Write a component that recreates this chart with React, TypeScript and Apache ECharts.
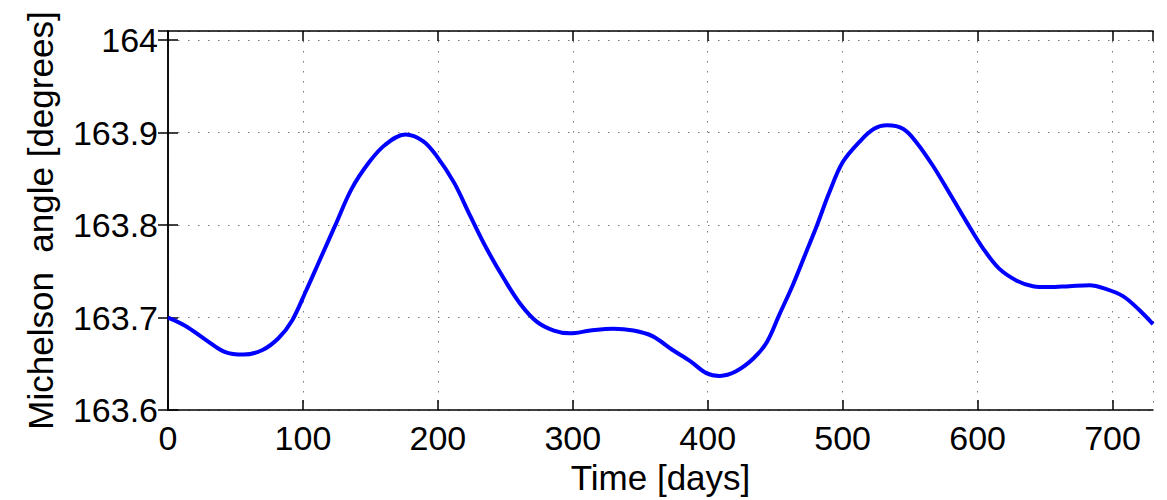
import React, { useEffect, useRef } from "react";
import * as echarts from "echarts";

const days = [0, 13, 28, 42, 56, 70, 82, 92, 102, 113, 124, 136, 149, 161, 176, 189, 199, 212, 224, 236, 249, 261, 273, 286, 298, 313, 330, 345, 359, 374, 387, 399, 409, 421, 434, 444, 453, 463, 473, 481, 490, 500, 513, 523, 533, 545, 555, 567, 579, 592, 604, 616, 629, 641, 653, 668, 683, 695, 708, 720, 730];
const angles = [163.700, 163.691, 163.676, 163.663, 163.660, 163.665, 163.678, 163.697, 163.728, 163.764, 163.800, 163.839, 163.868, 163.887, 163.898, 163.891, 163.875, 163.846, 163.810, 163.775, 163.742, 163.715, 163.696, 163.686, 163.683, 163.686, 163.688, 163.686, 163.680, 163.665, 163.653, 163.640, 163.637, 163.642, 163.656, 163.674, 163.703, 163.735, 163.771, 163.800, 163.835, 163.868, 163.891, 163.904, 163.908, 163.904, 163.889, 163.864, 163.835, 163.803, 163.775, 163.753, 163.740, 163.734, 163.733, 163.734, 163.735, 163.731, 163.723, 163.708, 163.693];

const xMin = 0;
const xMax = 730;
const xStep = 100;
const yMin = 163.6;
const yMax = 164.01;
const yStep = 0.1;

const xTitle = "Time [days]";
const yTitle = "Michelson  angle [degrees]";

const FONT = "'Liberation Sans', Arial, Helvetica, sans-serif";

export default function App() {
  const ref = useRef<HTMLDivElement>(null);
  useEffect(() => {
    if (!ref.current) return;
    const chart = echarts.init(ref.current, undefined, { renderer: "svg" });
    const axisLine = { show: true, lineStyle: { color: "#000", width: 1.5 } };
    const tick = { show: true, inside: true, length: 10, lineStyle: { color: "#000", width: 1.5 } };
    const grid = { show: true, lineStyle: { color: "#777", width: 1, type: [1.5, 8.5] as any } };
    const yFmt = (v: number) => String(Math.round(v * 10) / 10);
    chart.setOption({
      animation: false,
      backgroundColor: "#fff",
      grid: { left: 168, right: 14, top: 31, bottom: 88, containLabel: false },
      xAxis: [
        {
          type: "value",
          position: "bottom",
          min: xMin,
          max: xMax,
          interval: xStep,
          axisLine,
          axisTick: tick,
          splitLine: grid,
          axisLabel: { show: true, showMaxLabel: false, color: "#000", fontSize: 34, fontFamily: FONT, margin: 11 },
          name: xTitle,
          nameLocation: "middle",
          nameGap: 42,
          nameTextStyle: { color: "#000", fontSize: 35, fontFamily: FONT },
        },
        {
          type: "value",
          position: "top",
          min: xMin,
          max: xMax,
          interval: xStep,
          axisLine,
          axisTick: tick,
          splitLine: { show: false },
          axisLabel: { show: false },
        },
      ],
      yAxis: [
        {
          type: "value",
          position: "left",
          min: yMin,
          max: yMax,
          interval: yStep,
          axisLine,
          axisTick: tick,
          splitLine: grid,
          axisLabel: { show: true, showMaxLabel: false, formatter: yFmt, color: "#000", fontSize: 34, fontFamily: FONT, margin: 10 },
          name: yTitle,
          nameLocation: "middle",
          nameGap: 110,
          nameRotate: 90,
          nameTextStyle: { color: "#000", fontSize: 35, fontFamily: FONT },
        },
        {
          type: "value",
          position: "right",
          min: yMin,
          max: yMax,
          interval: yStep,
          axisLine,
          axisTick: tick,
          splitLine: { show: false },
          axisLabel: { show: false },
        },
      ],
      series: [
        {
          type: "line",
          xAxisIndex: 0,
          yAxisIndex: 0,
          data: days.map((d, i) => [d, angles[i]]),
          showSymbol: false,
          smooth: 0.35,
          lineStyle: { color: "#0000ff", width: 4 },
          clip: true,
        },
      ],
    });
    return () => chart.dispose();
  }, []);
  return <div ref={ref} style={{ position: "fixed", left: 0, top: 0, width: 1167, height: 500 }} />;
}
